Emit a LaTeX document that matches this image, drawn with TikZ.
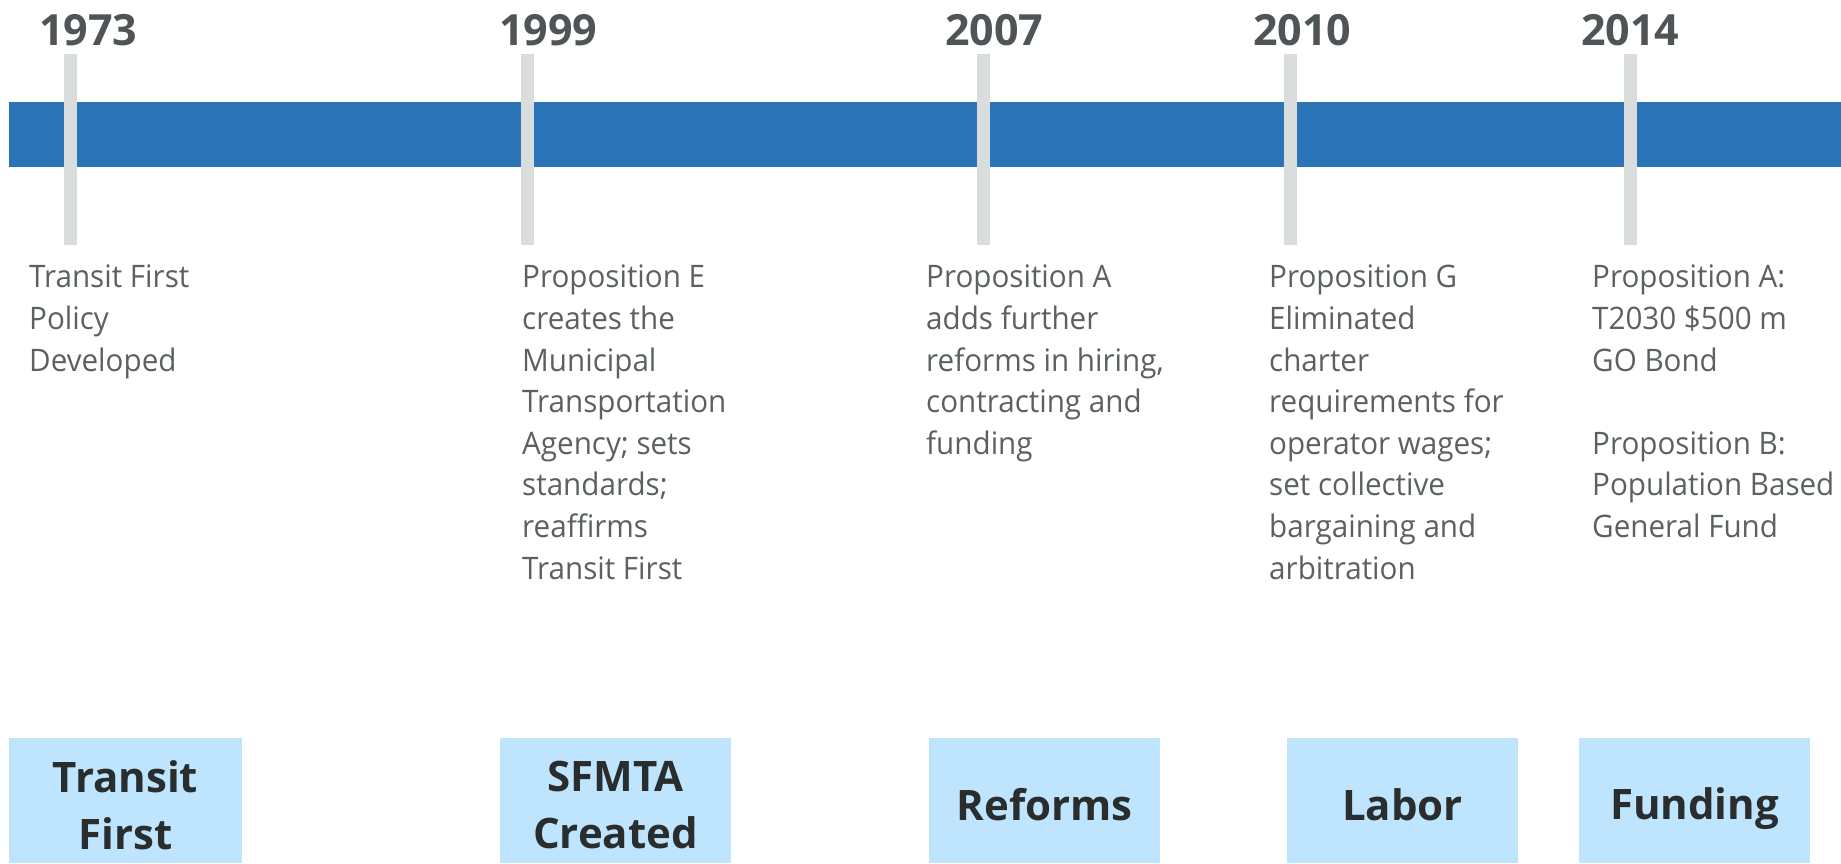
\documentclass[tikz,border=0pt]{standalone}
\usepackage{fontspec}
\setmainfont{Open Sans}
\newfontfamily\bodyfont[FakeStretch=0.955]{Open Sans}
\definecolor{barblue}{HTML}{2B74B8}
\definecolor{tickgray}{HTML}{D9DDDD}
\definecolor{yeargray}{HTML}{4F5557}
\definecolor{bodygray}{HTML}{5B6062}
\definecolor{boxblue}{HTML}{BEE5FD}
\definecolor{boxtext}{HTML}{2A2D2E}
\tikzset{
  year/.style={anchor=base west, inner sep=0pt, text=yeargray,
    font=\fontsize{43}{50}\selectfont\bfseries},
  body/.style={anchor=north west, inner sep=0pt, align=left, text=bodygray,
    font=\bodyfont\fontsize{31}{41.6}\selectfont},
  era/.style={fill=boxblue, draw=none},
  eralabel/.style={inner sep=0pt, align=center, text=boxtext,
    font=\fontsize{42}{57.5}\selectfont\bfseries},
  tick/.style={fill=tickgray, draw=none},
}
\begin{document}
\begin{tikzpicture}[x=1pt, y=-1pt]
\useasboundingbox (0,0) rectangle (1841,863);
% main time bar
\fill[barblue] (9,102) rectangle (1841,167);
% year ticks crossing the bar
\foreach \tx in {70, 527, 983, 1290, 1630}{
  \fill[tick] (\tx-6.5,54) rectangle (\tx+6.5,245);
}
% years
\node[year] (y1973) at (39,45) {1973};
\node[year] (y1999) at (499,45) {1999};
\node[year] (y2007) at (945,45) {2007};
\node[year] (y2010) at (1253,45) {2010};
\node[year] (y2014) at (1581,45) {2014};
% event descriptions
\node[body] (d1973) at (29,265) {Transit First\\Policy\\Developed};
\node[body] (d1999) at (522,265) {Proposition E\\creates the\\Municipal\\Transportation\\Agency; sets\\standards;\\reaffirms\\Transit First};
\node[body] (d2007) at (926,265) {Proposition A\\adds further\\reforms in hiring,\\contracting and\\funding};
\node[body] (d2010) at (1269,265) {Proposition G\\Eliminated\\charter\\requirements for\\operator wages;\\set collective\\bargaining and\\arbitration};
\node[body] (d2014) at (1592,265) {Proposition A:\\T2030 \$500 m\\GO Bond\\[41.6pt]Proposition B:\\Population Based\\General Fund};
% era boxes
\fill[era] (9,738) rectangle (242,863);
\fill[era] (500,738) rectangle (731,863);
\fill[era] (929,738) rectangle (1160,863);
\fill[era] (1287,738) rectangle (1518,863);
\fill[era] (1579,738) rectangle (1810,863);
\node[eralabel] (e1) at (125.5,805) {Transit\\First};
\node[eralabel] (e2) at (615.5,805) {SFMTA\\Created};
\node[eralabel] (e3) at (1044.5,805) {Reforms};
\node[eralabel] (e4) at (1402.5,805) {Labor};
\node[eralabel] (e5) at (1694.5,809) {Funding};
\end{tikzpicture}
\end{document}
